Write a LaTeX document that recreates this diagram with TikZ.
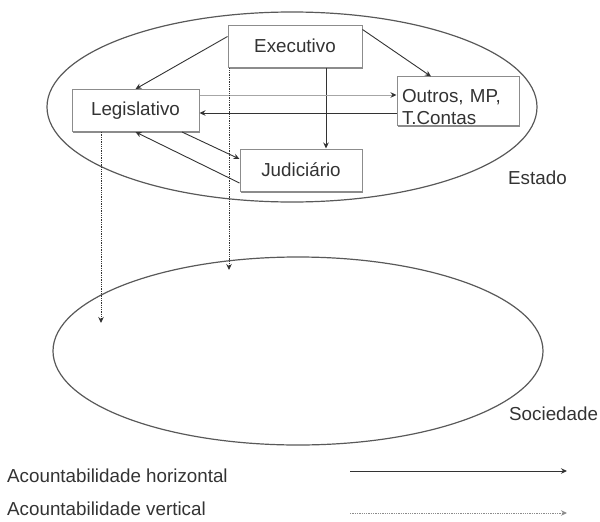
\documentclass[tikz,border=0pt]{standalone}
\usepackage{fontspec}
\setmainfont{Liberation Sans}
\usetikzlibrary{arrows.meta,shapes.geometric,shadows}
\definecolor{ink}{HTML}{333333}
\definecolor{edge}{HTML}{8C8C8C}
\begin{document}
\begin{tikzpicture}[x=1pt,y=-1pt,
  every node/.style={font=\fontsize{18.8}{22}\selectfont, text=ink},
  pbox/.style={draw=edge, line width=1pt, fill=white, inner sep=0pt,
    drop shadow={shadow xshift=0.8pt, shadow yshift=-1.6pt, fill=black!45, opacity=1}},
  oval/.style={draw=black!65, line width=1.2pt, ellipse, inner sep=0pt},
  harrow/.style={draw=ink, line width=0.9pt, -{Stealth[length=6pt,width=5.5pt]}},
  lharrow/.style={draw=black!35, line width=0.9pt, -{Stealth[length=6pt,width=5.5pt,color=ink]}},
  varrow/.style={draw=ink, line width=0.9pt, dash pattern=on 1.3pt off 1pt, -{Stealth[length=6pt,width=5.5pt]}},
  lbl/.style={anchor=base west, inner sep=0pt}
]
\useasboundingbox (0,0) rectangle (600,522);

% ellipses
\node[oval, minimum width=490pt, minimum height=190pt] (estado) at (292,107) {};
\node[oval, minimum width=490pt, minimum height=188pt] (sociedade) at (298,351) {};

% boxes
\node[pbox, minimum width=134pt, minimum height=42pt] (exe) at (295,46) {Executivo};
\node[pbox, minimum width=127pt, minimum height=42pt] (leg) at (135.5,110.5) {Legislativo};
\node[pbox, minimum width=122pt, minimum height=48pt, align=left, text width=112pt] (out) at (458,101) {\rule{0pt}{26pt}Outros, MP,\\T.Contas};
\node[pbox, minimum width=122pt, minimum height=42pt] (jud) at (301,170) {Judiciário};

% labels
\node[lbl] (lestado) at (508,184) {Estado};
\node[lbl] (lsoc) at (509,420) {Sociedade};
\node[lbl] (lh) at (7,482) {Acountabilidade horizontal};
\node[lbl] (lv) at (7,515) {Acountabilidade vertical};

% free ends
\coordinate (v1) at (101,323);
\coordinate (v2) at (229,270);
\coordinate (h1) at (350,471);
\coordinate (h2) at (567,471);
\coordinate (d1) at (350,513);
\coordinate (d2) at (567,513);

% horizontal accountability
\draw[harrow] ([yshift=-12pt]exe.north west) -- (leg.north);
\draw[harrow] ([yshift=-5pt]exe.north east) -- ([xshift=-27pt]out.north);
\draw[harrow] ([xshift=31pt]exe.south) -- ([xshift=31pt]exe.south |- jud.north);
\draw[lharrow] ([yshift=15.5pt]leg.east) -- ([yshift=15.5pt]leg.east -| out.west);
\draw[harrow] ([yshift=-12pt]out.west) -- ([yshift=-12pt]out.west -| leg.east);
\draw[harrow] ([xshift=46.5pt]leg.south) -- ([yshift=11pt]jud.west);
\draw[harrow] ([yshift=-13pt]jud.west) -- (leg.south);

% vertical accountability
\draw[varrow] (leg.south -| v1) -- (v1);
\draw[varrow] (exe.south -| v2) -- (v2);

% legend
\draw[harrow] (h1) -- (h2);
\draw[varrow, draw=black!45] (d1) -- (d2);
\end{tikzpicture}
\end{document}
